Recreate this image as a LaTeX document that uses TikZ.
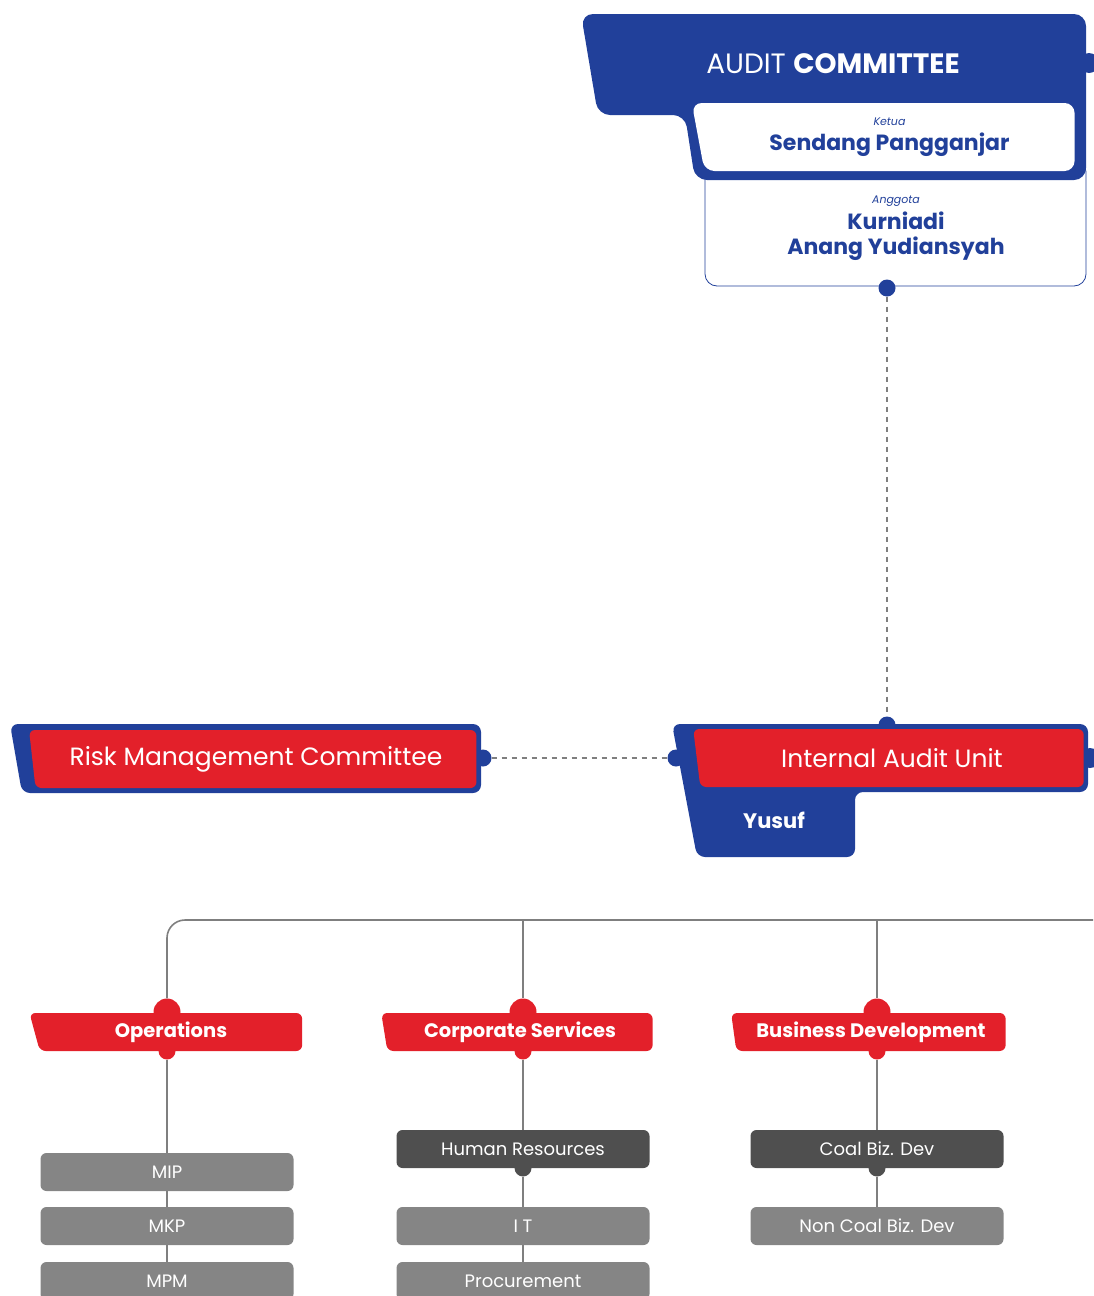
\documentclass[tikz,border=0pt]{standalone}
\usepackage{fontspec}
\setmainfont{Poppins}
\usetikzlibrary{positioning,shapes.geometric}
\definecolor{cptblue}{HTML}{21409A}
\definecolor{cptred}{HTML}{E3202A}
\definecolor{boxgray}{HTML}{858585}
\definecolor{boxdark}{HTML}{4F4F4F}
\definecolor{linegray}{HTML}{7F7F7F}
\tikzset{slant/.style={trapezium,trapezium left angle=90,trapezium right angle=78,shape border rotate=180,trapezium stretches=true,inner sep=0pt}}
\tikzset{redhead/.style={slant,fill=cptred,text=white,rounded corners=6}}
\tikzset{subbox/.style={rectangle,fill=boxgray,text=white,rounded corners=6,minimum width=253,minimum height=38,font=\fontsize{18}{20}\selectfont}}
\tikzset{subdark/.style={subbox,fill=boxdark}}
\tikzset{joint/.style={circle,inner sep=0pt,minimum size=17}}
\tikzset{treeline/.style={draw=linegray,line width=1.6}}
\tikzset{dashline/.style={draw=linegray,line width=1.6,dash pattern=on 5pt off 5pt}}

\begin{document}
\begin{tikzpicture}[x=1pt, y=-1pt]
\useasboundingbox (0,0) rectangle (1093,1296);
    % audit committee
    \node[rectangle,draw=cptblue,fill=white,rounded corners=12,line width=0.8,minimum width=381,minimum height=126] (anggota) at (895.5,223) {};
    \node[joint,fill=cptblue,minimum size=20] (acright) at (1089,63) {};
    \fill[cptblue,rounded corners=12] (581,14) -- (1086,14) -- (1086,180) -- (695,180) -- (685,115) -- (598,115) -- cycle;
    \node[text=white,font=\fontsize{28}{30}\selectfont] (audit) at (833,64) {AUDIT \textbf{COMMITTEE}};
    \node[slant,fill=white,rounded corners=10,minimum width=384,minimum height=68,align=center,text=cptblue,font=\bfseries\fontsize{22}{21}\selectfont] (ketua) at (889.5,137) {{\mdseries\itshape\fontsize{11}{13}\selectfont Ketua}\\[4pt]Sendang Pangganjar};
    \node[align=center,text=cptblue,font=\bfseries\fontsize{22}{25}\selectfont] (anggotatext) at (896,228) {{\mdseries\itshape\fontsize{11}{13}\selectfont Anggota}\\[1pt]Kurniadi\\Anang Yudiansyah};
    \node[joint,fill=cptblue] (acdot) at (887,288) {};
    % risk management committee
    \node[joint,fill=cptblue] (rmcdot) at (483,758) {};
    \fill[cptblue,rounded corners=8] (10,724) -- (481,724) -- (481,793) -- (22,793) -- cycle;
    \node[redhead,minimum width=448,minimum height=58,font=\fontsize{25}{28}\selectfont] (rmc) at (256,759) {Risk Management Committee};
    % internal audit unit
    \node[joint,fill=cptblue] (iatop) at (887,725) {};
    \node[joint,fill=cptblue] (ialeft) at (676,758) {};
    \node[joint,fill=cptblue,minimum size=20] (iaright) at (1090,758) {};
    \fill[cptblue,rounded corners=8] (672,724) -- (1088,724) -- (1088,792) -- (855,792) -- (855,857) -- (697,857) -- cycle;
    \node[redhead,minimum width=391,minimum height=58,font=\fontsize{25}{28}\selectfont] (iau) at (892,758) {Internal Audit Unit};
    \node[text=white,font=\bfseries\fontsize{21}{24}\selectfont] (yusuf) at (774,820) {Yusuf};
    \path[dashline] (acdot) -- (iatop);
    \path[dashline] (rmcdot) -- (ialeft);
    % divisions
    \coordinate (trunk) at (1093,920);
    \node[joint,fill=cptred,minimum size=27] (opstop) at (167,1012) {};
    \node[joint,fill=cptred,minimum size=27] (cstop) at (523,1012) {};
    \node[joint,fill=cptred,minimum size=27] (bdtop) at (877,1012) {};
    \node[joint,fill=cptred] (opsbot) at (167,1051) {};
    \node[joint,fill=cptred] (csbot) at (523,1051) {};
    \node[joint,fill=cptred] (bdbot) at (877,1051) {};
    \node[redhead,minimum width=273,minimum height=38,font=\bfseries\fontsize{19.5}{22}\selectfont] (ops) at (171,1032) {Operations};
    \node[redhead,minimum width=272,minimum height=38,font=\bfseries\fontsize{19.5}{22}\selectfont] (cs) at (520,1032) {Corporate Services};
    \node[redhead,minimum width=275,minimum height=38,font=\bfseries\fontsize{19.5}{22}\selectfont] (bd) at (871,1032) {Business Development};
    \node[subbox] (mip) at (167,1172) {MIP};
    \node[subbox] (mkp) at (167,1226) {MKP};
    \node[subbox] (mpm) at (167,1281) {MPM};
    \node[joint,fill=boxdark] (hrdot) at (523,1168) {};
    \node[subdark] (hr) at (523,1149) {Human Resources};
    \node[subbox] (it) at (523,1226) {I T};
    \node[subbox] (proc) at (523,1281) {Procurement};
    \node[joint,fill=boxdark] (coaldot) at (877,1168) {};
    \node[subdark] (coal) at (877,1149) {Coal Biz. Dev};
    \node[subbox] (noncoal) at (877,1226) {Non Coal Biz. Dev};
    \draw[treeline,rounded corners=18] (trunk) -| (opstop);
    \draw[treeline] (cstop |- trunk) -- (cstop);
    \draw[treeline] (bdtop |- trunk) -- (bdtop);
    \draw[treeline] (opsbot) -- (mip) -- (mkp) -- (mpm);
    \draw[treeline] (csbot) -- (hr);
    \draw[treeline] (hrdot) -- (it) -- (proc);
    \draw[treeline] (bdbot) -- (coal);
    \draw[treeline] (coaldot) -- (noncoal);
\end{tikzpicture}
\end{document}
